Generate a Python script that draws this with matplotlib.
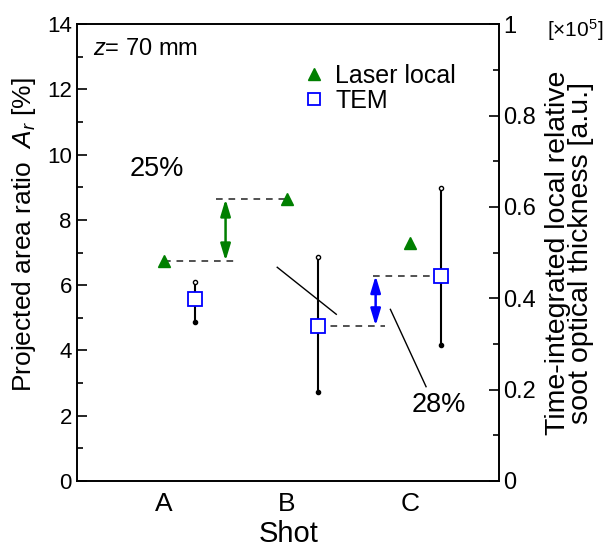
import matplotlib
matplotlib.use("Agg")
import matplotlib.pyplot as plt
from matplotlib.ticker import MultipleLocator, FixedLocator

plt.rcParams['font.family'] = ['Liberation Sans', 'DejaVu Sans']
plt.rcParams['mathtext.fontset'] = 'custom'
plt.rcParams['mathtext.rm'] = 'Liberation Sans'
plt.rcParams['mathtext.it'] = 'Liberation Sans:italic'

# ---- data ----
shots = ["A", "B", "C"]
shot_pos = [1, 2, 3]
laser_local = [0.482, 0.617, 0.520]        # right axis (x10^5, a.u.)
tem_area = [5.58, 4.76, 6.29]              # left axis, %
tem_err_low = [4.86, 2.74, 4.18]
tem_err_high = [6.09, 6.86, 8.99]
tem_offset = 0.25
pct_laser = "25%"
pct_tem = "28%"

fig = plt.figure(figsize=(6.09, 5.47), dpi=100)
ax = fig.add_axes([0.127, 0.1207, 0.693, 0.835])
ax2 = ax.twinx()

green = '#007f00'
blue = '#0000ff'
dash = (0, (4, 3.5))
astyle = '<|-|>,head_length=1.0,head_width=0.3'

# TEM
tem_x = [p + tem_offset for p in shot_pos]
ax.vlines(tem_x, tem_err_low, tem_err_high, color='black', lw=1.5, zorder=2)
ax.plot(tem_x, tem_err_low, 'o', color='black', ms=3, zorder=3)
ax.plot(tem_x, tem_err_high, 'o', color='black', ms=3, mfc='white', mew=1, zorder=3)
ax.plot(tem_x, tem_area, 's', mfc='white', mec=blue, mew=1.3, ms=10, ls='none', zorder=4)

# TEM dashed + arrow (B -> C)
ax.plot([tem_x[1], 2.80], [tem_area[1]] * 2, ls=dash, color='#333333', lw=1.2)
ax.plot([2.70, tem_x[2]], [tem_area[2]] * 2, ls=dash, color='#333333', lw=1.2)
ax.annotate('', xy=(2.72, tem_area[2]), xytext=(2.72, tem_area[1]),
            arrowprops=dict(arrowstyle=astyle, color=blue, lw=1.8, shrinkA=0, shrinkB=0))

# Laser
ax2.plot(shot_pos, laser_local, '^', color=green, ms=9, ls='none', zorder=4)
ax2.plot([shot_pos[0], 1.59], [laser_local[0]] * 2, ls=dash, color='#333333', lw=1.2)
ax2.plot([1.42, shot_pos[1]], [laser_local[1]] * 2, ls=dash, color='#333333', lw=1.2)
ax2.annotate('', xy=(1.5, laser_local[1]), xytext=(1.5, laser_local[0]),
             arrowprops=dict(arrowstyle=astyle, color=green, lw=1.8, shrinkA=0, shrinkB=0))

# legend handles
h1, = ax2.plot([], [], '^', color=green, ms=9, ls='none', label='Laser local')
h2, = ax2.plot([], [], 's', mfc='white', mec=blue, mew=1.3, ms=9, ls='none', label='TEM')
ax2.legend(handles=[h1, h2], loc='upper left', bbox_to_anchor=(0.505, 0.935),
           frameon=False, fontsize=18, handletextpad=0.3, labelspacing=0.05,
           handlelength=1.1, borderaxespad=0)

# leader lines and labels
ax.plot([1.92, 2.40], [6.55, 5.11], color='black', lw=1)
ax.plot([2.84, 3.13], [5.26, 2.89], color='black', lw=1)
ax.text(0.94, 9.55, pct_laser, fontsize=19.5, ha='center', va='center')
ax.text(3.23, 2.33, pct_tem, fontsize=19.5, ha='center', va='center')
ax.text(0.42, 13.25, r'$z$= 70 mm', fontsize=17, ha='left', va='center')

# axes
ax.set_xlim(0.295, 3.726)
ax.set_ylim(0, 14)
ax2.set_ylim(0, 1)
ax.set_xticks(shot_pos)
ax.set_xticklabels(shots, fontsize=19)
ax.tick_params(axis='x', length=0, pad=8)
ax.yaxis.set_major_locator(MultipleLocator(2))
ax.yaxis.set_minor_locator(MultipleLocator(1))
ax.tick_params(axis='y', which='major', direction='in', length=7, width=1.2, labelsize=16, pad=4)
ax.tick_params(axis='y', which='minor', direction='in', length=4, width=1.2)
ax2.yaxis.set_major_locator(FixedLocator([0, 0.2, 0.4, 0.6, 0.8, 1.0]))
ax2.set_yticklabels(['0', '0.2', '0.4', '0.6', '0.8', '1'])
ax2.yaxis.set_minor_locator(MultipleLocator(0.1))
ax2.tick_params(axis='y', which='major', direction='in', length=7, width=1.2, labelsize=17, pad=3)
ax2.tick_params(axis='y', which='minor', direction='in', length=4, width=1.2)
for a in (ax, ax2):
    for s in a.spines.values():
        s.set_linewidth(1.2)

ax.set_xlabel('Shot', fontsize=21, labelpad=3)
ax.set_ylabel(r'Projected area ratio  $A_r$ [%]', fontsize=19)
ax.yaxis.set_label_coords(-0.093, 0.54)
ax2.set_ylabel('Time-integrated local relative\nsoot optical thickness [a.u.]',
               fontsize=20.5, labelpad=6, linespacing=0.85)
fig.text(0.899, 0.945, r'[$\times$10$^5$]', fontsize=15, ha='left', va='center')

fig.savefig('out.png', dpi=100)
